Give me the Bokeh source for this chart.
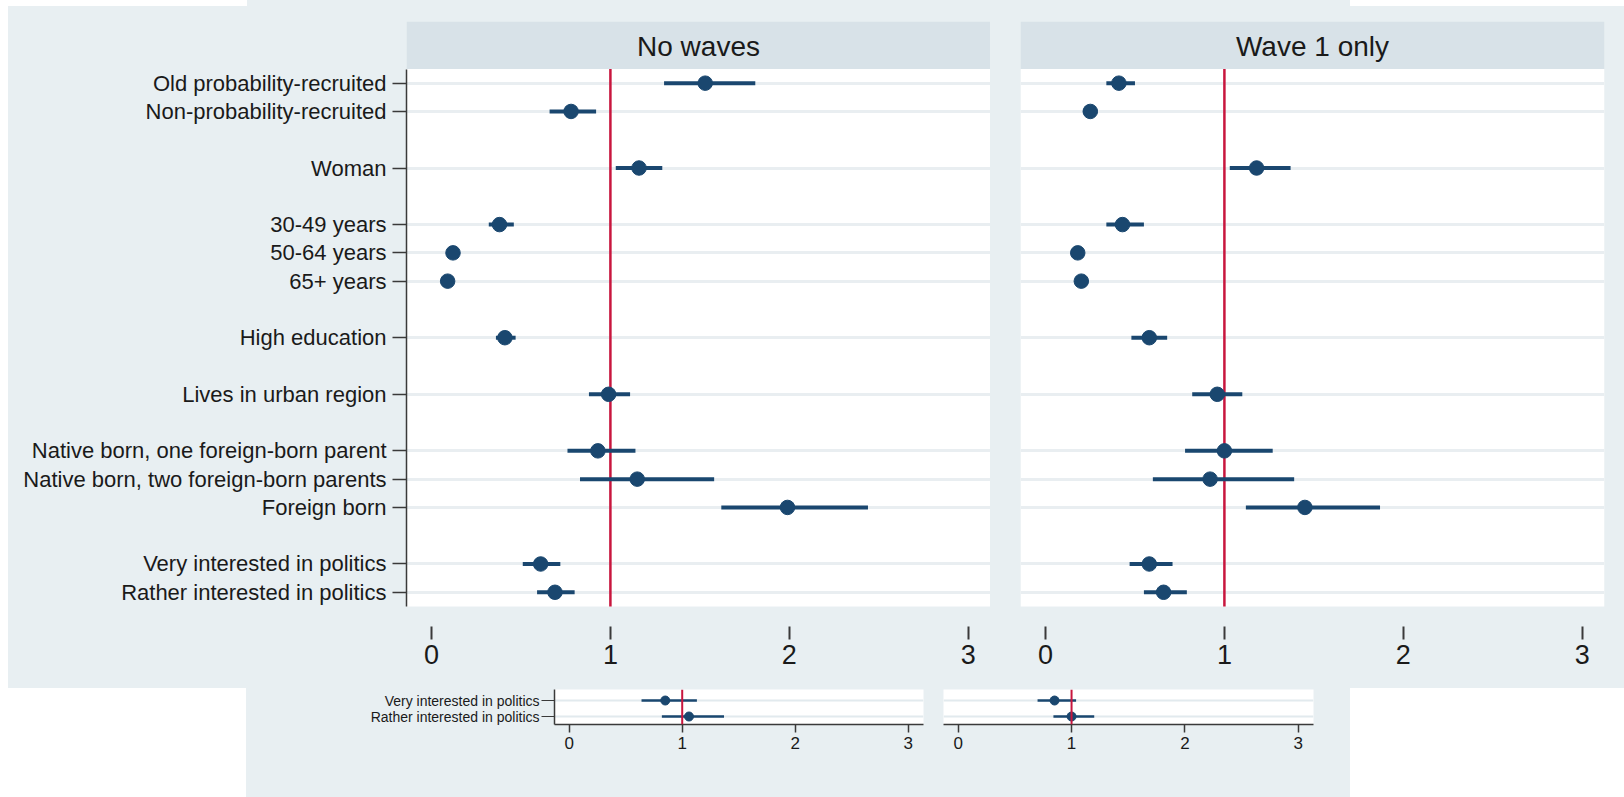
from bokeh.plotting import figure
from bokeh.layouts import column, row, Spacer
from bokeh.models import Range1d, FixedTicker, BoxAnnotation, Label, Span
from bokeh.embed import file_html
from bokeh.resources import INLINE

# ---------------- data ----------------
labels = ["Old probability-recruited", "Non-probability-recruited", "Woman",
          "30-49 years", "50-64 years", "65+ years", "High education",
          "Lives in urban region", "Native born, one foreign-born parent",
          "Native born, two foreign-born parents", "Foreign born",
          "Very interested in politics", "Rather interested in politics"]
group_sizes = [2, 1, 3, 1, 1, 3, 2]

nowave_est = [1.53, 0.78, 1.16, 0.38, 0.12, 0.09, 0.41, 0.99, 0.93, 1.15, 1.99, 0.61, 0.69]
nowave_lo = [1.30, 0.66, 1.03, 0.32, 0.10, 0.07, 0.36, 0.88, 0.76, 0.83, 1.62, 0.51, 0.59]
nowave_hi = [1.81, 0.92, 1.29, 0.46, 0.15, 0.11, 0.47, 1.11, 1.14, 1.58, 2.44, 0.72, 0.80]

wave1_est = [0.41, 0.25, 1.18, 0.43, 0.18, 0.20, 0.58, 0.96, 1.00, 0.92, 1.45, 0.58, 0.66]
wave1_lo = [0.34, 0.21, 1.03, 0.34, 0.16, 0.17, 0.48, 0.82, 0.78, 0.60, 1.12, 0.47, 0.55]
wave1_hi = [0.50, 0.29, 1.37, 0.55, 0.20, 0.23, 0.68, 1.10, 1.27, 1.39, 1.87, 0.71, 0.79]

small_labels = ["Very interested in politics", "Rather interested in politics"]
small_nowave_est = [0.85, 1.06]
small_nowave_lo = [0.64, 0.82]
small_nowave_hi = [1.13, 1.37]
small_wave1_est = [0.85, 1.00]
small_wave1_lo = [0.70, 0.84]
small_wave1_hi = [1.04, 1.20]

panel_titles = ["No waves", "Wave 1 only"]
x_ticks = [0, 1, 2, 3]
REF = 1.0

# ---------------- styles ----------------
FONT = "Liberation Sans"
BG = "#e8eff2"
HEAD = "#d8e2e8"
GRID = "#e9eef1"
NAVY = "#1a476f"
RED = "#c8163e"
TXT = "#1a1a1a"
AX = "#3a3a3a"

# row positions: one empty row between groups
positions = []
k = 0
for gi, n in enumerate(group_sizes):
    for _ in range(n):
        positions.append(k)
        k += 1
    k += 1
PLOT_TOP = positions[0] - 0.5
PLOT_BOT = positions[-1] + 0.5
Y_END = -2.18
Y_START = 19.21


def big_panel(title, est, lo, hi, show_y, width, bl, br):
    p = figure(width=width, height=682, x_range=Range1d(-0.14, 3.125),
               y_range=Range1d(Y_START, Y_END), output_backend="svg",
               toolbar_location=None, min_border_left=bl, min_border_right=br,
               min_border_top=15, min_border_bottom=62,
               background_fill_color=BG, border_fill_color=BG,
               outline_line_color=None, styles={"background-color": BG})
    p.add_layout(BoxAnnotation(top=PLOT_TOP, bottom=PLOT_BOT, fill_color="white",
                               fill_alpha=1, line_color=None, level="image"))
    p.add_layout(BoxAnnotation(top=Y_END, bottom=PLOT_TOP, fill_color=HEAD,
                               fill_alpha=1, line_color=None, level="image"))
    p.add_layout(Label(x=(p.x_range.start + p.x_range.end) / 2,
                       y=(Y_END + PLOT_TOP) / 2 + 0.03, text=title,
                       text_align="center", text_baseline="middle",
                       text_font=FONT, text_font_size="28px", text_color=TXT))
    p.xgrid.visible = False
    p.ygrid.ticker = FixedTicker(ticks=positions)
    p.ygrid.grid_line_color = GRID
    p.ygrid.grid_line_width = 3

    p.segment(x0=[REF], y0=[PLOT_TOP], x1=[REF], y1=[PLOT_BOT],
              line_color=RED, line_width=2.5)
    p.segment(x0=lo, y0=positions, x1=hi, y1=positions, line_color=NAVY,
              line_width=4)
    p.scatter(x=est, y=positions, size=14.5, fill_color=NAVY, line_color=NAVY)

    xa = p.xaxis[0]
    xa.ticker = FixedTicker(ticks=x_ticks)
    xa.axis_line_color = None
    xa.major_tick_in = 0
    xa.major_tick_out = 13
    xa.major_tick_line_color = AX
    xa.major_tick_line_width = 2
    xa.minor_tick_line_color = None
    xa.major_label_text_font = FONT
    xa.major_label_text_font_size = "27px"
    xa.major_label_text_color = TXT
    xa.major_label_standoff = 5

    ya = p.yaxis[0]
    ya.ticker = FixedTicker(ticks=positions)
    if show_y:
        ya.major_label_overrides = {pos: lab for pos, lab in zip(positions, labels)}
        ya.bounds = (PLOT_TOP, PLOT_BOT)
        ya.axis_line_color = AX
        ya.axis_line_width = 1.5
        ya.major_tick_in = 0
        ya.major_tick_out = 14
        ya.major_tick_line_color = AX
        ya.major_tick_line_width = 1.5
        ya.minor_tick_line_color = None
        ya.major_label_text_font = FONT
        ya.major_label_text_font_size = "22px"
        ya.major_label_text_color = TXT
        ya.major_label_standoff = 6
    else:
        ya.visible = False
    return p


def small_panel(est, lo, hi, show_y, width, bl, br):
    pos = list(range(len(small_labels)))
    p = figure(width=width, height=109, x_range=Range1d(-0.13, 3.135),
               y_range=Range1d(1.5, -0.69), output_backend="svg",
               toolbar_location=None, min_border_left=bl, min_border_right=br,
               min_border_top=1, min_border_bottom=73,
               background_fill_color="white", border_fill_color=BG,
               outline_line_color=None, styles={"background-color": BG})
    p.xgrid.visible = False
    p.ygrid.ticker = FixedTicker(ticks=pos)
    p.ygrid.grid_line_color = "#e2eaee"
    p.ygrid.grid_line_width = 2
    p.add_layout(Span(location=REF, dimension="height", line_color=RED,
                      line_width=2))
    p.segment(x0=lo, y0=pos, x1=hi, y1=pos, line_color=NAVY, line_width=2.5)
    p.scatter(x=est, y=pos, size=9, fill_color=NAVY, line_color=NAVY)

    xa = p.xaxis[0]
    xa.ticker = FixedTicker(ticks=x_ticks)
    xa.axis_line_color = AX
    xa.axis_line_width = 1.5
    xa.major_tick_in = 0
    xa.major_tick_out = 8
    xa.major_tick_line_color = AX
    xa.major_tick_line_width = 1.5
    xa.minor_tick_line_color = None
    xa.major_label_text_font = FONT
    xa.major_label_text_font_size = "17px"
    xa.major_label_text_color = TXT
    xa.major_label_standoff = 4

    ya = p.yaxis[0]
    ya.ticker = FixedTicker(ticks=pos)
    if show_y:
        ya.major_label_overrides = {q: lab for q, lab in zip(pos, small_labels)}
        ya.axis_line_color = AX
        ya.axis_line_width = 1.5
        ya.major_tick_in = 0
        ya.major_tick_out = 13
        ya.major_tick_line_color = AX
        ya.major_tick_line_width = 1.2
        ya.minor_tick_line_color = None
        ya.major_label_text_font = FONT
        ya.major_label_text_font_size = "14px"
        ya.major_label_text_color = TXT
        ya.major_label_standoff = 2
    else:
        ya.visible = False
    return p


b1 = big_panel(panel_titles[0], nowave_est, nowave_lo, nowave_hi, True, 982, 398, 0)
b2 = big_panel(panel_titles[1], wave1_est, wave1_lo, wave1_hi, False, 634, 30, 20)
s1 = small_panel(small_nowave_est, small_nowave_lo, small_nowave_hi, True, 687, 308, 10)
s2 = small_panel(small_wave1_est, small_wave1_lo, small_wave1_hi, False, 417, 10, 37)

top_strip = row(Spacer(width=247, height=6),
                Spacer(width=1103, height=6, styles={"background-color": BG}),
                Spacer(width=274, height=6), spacing=0)
big_pair = row(b1, b2, spacing=0, styles={"background-color": BG})
big_row = row(Spacer(width=8, height=682), big_pair, spacing=0)
small_pair = row(s1, s2, spacing=0, styles={"background-color": BG})
small_row = row(Spacer(width=246, height=109), small_pair,
                Spacer(width=274, height=109), spacing=0)

layout = column(top_strip, big_row, small_row, spacing=0)

open("out.html", "w").write(file_html(layout, INLINE))
